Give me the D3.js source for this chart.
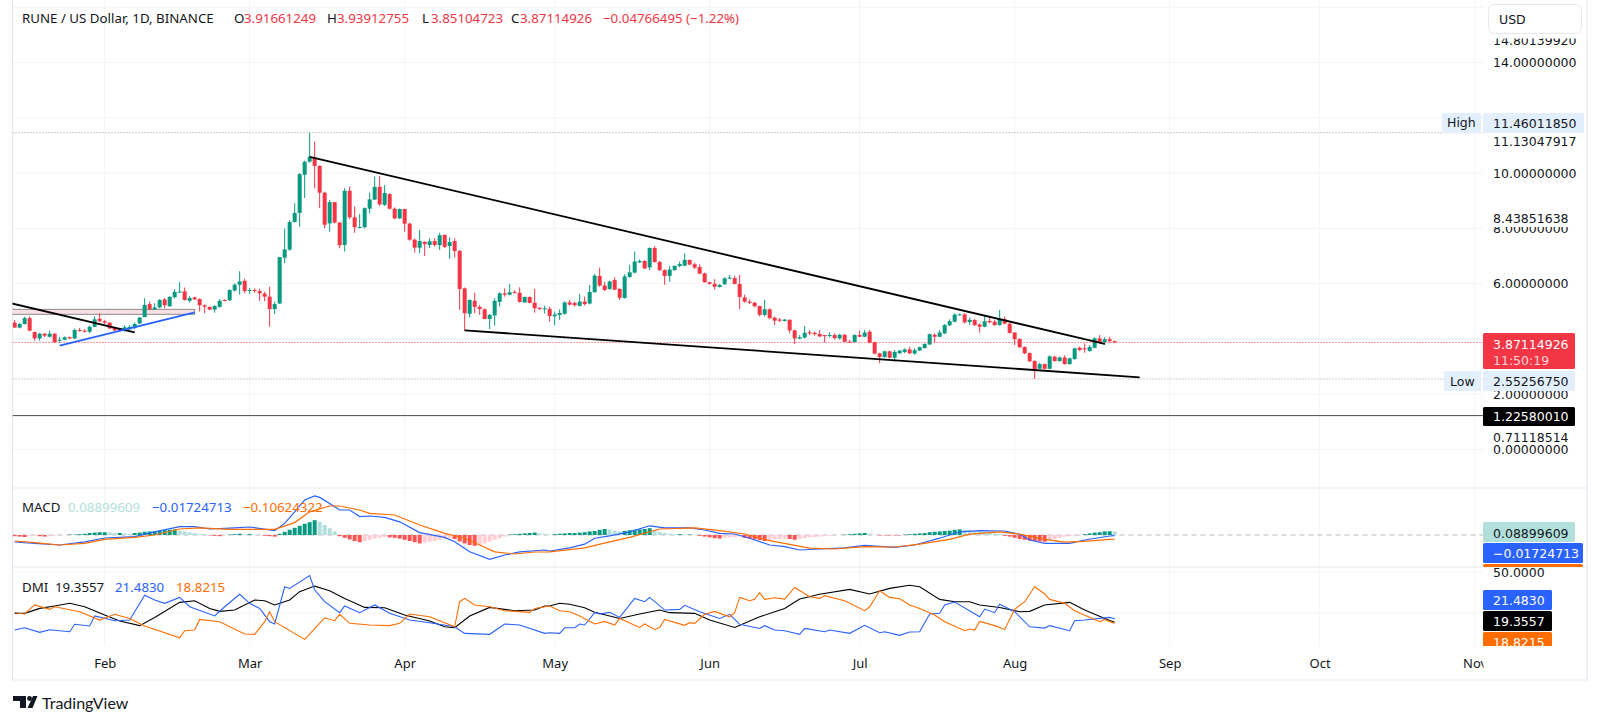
<!DOCTYPE html>
<html>
<head>
<meta charset="utf-8">
<script src="https://cdn.jsdelivr.net/npm/d3@7"></script>
<style>
  html, body { margin: 0; padding: 0; background: #fff; }
  svg { display: block; }
  text { font-family: "DejaVu Sans", sans-serif; }
  .legend text, .months text { font-family: "Noto Sans", sans-serif; }
</style>
</head>
<body>
<svg id="chart" width="1600" height="723"></svg>
<script>
// daily candles, first one is 14 Jan 2024
const opens = [4.59,4.41,4.54,4.75,4.25,4.02,4.19,4.08,4.19,3.94,
  3.97,4.06,4.02,4.32,4.30,4.26,4.44,4.73,4.64,4.59,
  4.41,4.38,4.30,4.35,4.40,4.56,4.79,5.26,5.06,5.14,
  5.43,5.18,5.51,5.69,5.72,5.38,5.50,5.44,5.22,5.16,
  5.06,5.16,5.41,5.40,5.75,5.96,6.10,5.75,5.77,5.73,
  5.64,5.53,5.08,5.28,6.94,7.23,8.23,8.56,9.94,10.41,
  10.57,10.26,9.29,8.18,8.95,8.21,7.40,9.36,8.40,8.03,
  8.04,8.71,9.04,9.50,8.85,9.24,8.71,8.36,8.70,8.17,
  7.59,7.30,7.51,7.40,7.54,7.39,7.76,7.36,7.54,7.18,
  5.83,4.91,5.38,5.16,5.07,4.72,4.85,5.34,5.65,5.60,
  5.69,5.67,5.32,5.52,5.31,5.12,5.09,5.09,4.82,4.87,
  4.91,5.32,5.30,5.20,5.35,5.28,5.69,6.28,5.93,5.81,
  6.13,5.81,5.48,6.24,6.40,6.77,6.82,6.59,7.29,6.78,
  6.49,6.28,6.49,6.64,6.65,6.86,6.70,6.60,6.37,6.05,
  5.99,5.88,5.98,6.18,6.20,5.99,5.50,5.35,5.31,5.19,
  4.87,5.07,4.77,4.70,4.65,4.69,4.31,4.01,4.05,4.24,
  4.22,4.18,4.14,4.12,4.14,4.02,4.15,3.90,3.89,4.14,
  4.08,4.26,3.88,3.48,3.35,3.55,3.32,3.48,3.53,3.62,
  3.47,3.58,3.67,3.80,4.15,4.08,4.20,4.49,4.62,4.87,
  4.89,4.61,4.69,4.52,4.44,4.65,4.62,4.50,4.71,4.55,
  4.23,4.00,3.71,3.49,3.20,2.92,3.09,2.92,3.36,3.20,
  3.33,3.09,3.27,3.68,3.66,3.56,3.68,4.02,3.88,3.99,
  3.91661249];
const highs = [4.69,4.58,4.80,4.81,4.27,4.22,4.21,4.30,4.21,4.08,
  4.09,4.09,4.38,4.40,4.35,4.48,4.82,4.93,4.69,4.61,
  4.44,4.40,4.50,4.50,4.59,4.80,5.47,5.35,5.29,5.44,
  5.48,5.55,5.80,6.05,5.86,5.55,5.53,5.47,5.25,5.17,
  5.22,5.43,5.43,5.80,6.01,6.45,6.18,5.84,5.83,5.82,
  5.71,5.89,5.35,6.97,7.99,8.30,8.91,10.00,10.45,11.4601185,
  11.14,10.28,9.33,9.03,8.95,8.23,9.45,9.51,8.79,8.52,
  8.76,9.29,9.87,9.89,9.57,9.27,8.76,8.72,8.71,8.21,
  7.63,7.94,7.53,7.64,7.64,7.84,7.78,7.68,7.64,7.22,
  5.86,5.43,5.67,5.23,5.11,4.90,5.47,5.69,5.83,5.99,
  5.77,5.87,5.53,5.53,5.81,5.15,5.20,5.17,4.99,5.07,
  5.36,5.41,5.35,5.62,5.53,5.95,6.35,6.58,6.07,6.11,
  6.23,5.83,6.34,6.68,7.16,6.88,6.85,7.31,7.36,6.82,
  6.52,6.64,6.66,6.80,7.10,6.86,6.76,6.70,6.40,6.07,
  6.16,5.99,6.23,6.31,6.28,6.31,5.60,5.43,5.34,5.20,
  5.41,5.11,4.81,4.76,4.72,4.71,4.33,4.14,4.47,4.32,
  4.26,4.32,4.14,4.24,4.20,4.18,4.18,3.96,4.17,4.30,
  4.32,4.32,3.90,3.50,3.58,3.58,3.60,3.60,3.66,3.72,
  3.66,3.72,3.84,4.20,4.20,4.32,4.54,4.71,4.93,4.92,
  4.93,4.78,4.71,4.56,4.84,4.81,4.69,5.05,4.81,4.59,
  4.25,4.02,3.73,3.51,3.23,3.14,3.11,3.40,3.38,3.36,
  3.41,3.32,3.68,3.72,3.84,3.78,4.06,4.14,4.06,4.08,
  3.93912755];
const lows = [4.40,4.38,4.52,4.28,3.94,3.94,4.06,4.05,3.86,3.86,
  3.95,3.99,3.99,4.26,4.23,4.20,4.42,4.61,4.54,4.35,
  4.29,4.28,4.26,4.33,4.35,4.54,4.79,5.04,5.05,5.11,
  5.11,5.17,5.47,5.67,5.39,5.31,5.41,4.99,4.93,5.05,
  4.95,5.13,5.36,5.37,5.72,5.60,5.65,5.63,5.67,5.37,
  5.36,4.44,4.90,5.27,6.74,7.19,8.21,8.06,9.10,10.38,
  9.45,8.73,8.00,7.88,8.18,7.28,7.16,8.33,7.84,8.00,
  8.00,8.54,9.03,8.81,8.81,8.69,8.33,8.34,7.88,7.55,
  7.12,7.10,7.00,7.29,7.34,7.22,7.29,6.90,6.95,5.05,
  4.30,4.78,4.93,4.87,4.71,4.36,4.48,5.17,5.53,5.58,
  5.65,5.31,5.31,5.29,4.95,5.06,4.92,4.62,4.50,4.69,
  4.88,5.21,5.17,5.17,5.21,5.25,5.67,5.89,5.73,5.77,
  5.77,5.41,5.46,6.21,6.37,6.74,6.53,6.49,6.76,6.46,
  5.96,6.07,6.47,6.59,6.63,6.67,6.53,6.34,6.04,5.97,
  5.79,5.86,5.95,6.16,5.98,5.08,5.31,5.26,5.14,4.81,
  4.81,4.71,4.50,4.61,4.63,4.20,3.82,3.99,4.02,4.14,
  4.12,4.06,3.87,4.06,3.98,3.98,3.87,3.87,3.87,4.06,
  4.06,3.84,3.44,3.12,3.31,3.30,3.18,3.46,3.49,3.45,
  3.43,3.56,3.65,3.78,3.87,4.06,4.18,4.47,4.60,4.85,
  4.56,4.50,4.47,4.23,4.42,4.56,4.48,4.48,4.53,4.20,
  3.78,3.67,3.45,3.17,2.5525675,2.90,2.90,2.90,3.18,3.18,
  3.07,3.07,3.25,3.56,3.50,3.54,3.66,3.84,3.78,3.87,
  3.85104723];
const closes = [4.41,4.54,4.75,4.30,4.02,4.19,4.12,4.19,3.88,3.97,
  4.06,4.02,4.32,4.30,4.26,4.44,4.71,4.64,4.59,4.38,
  4.31,4.30,4.42,4.44,4.54,4.77,5.23,5.07,5.14,5.41,
  5.22,5.52,5.70,5.71,5.41,5.48,5.43,5.22,5.17,5.06,
  5.19,5.38,5.38,5.77,5.96,6.08,5.73,5.77,5.75,5.65,
  5.53,5.08,5.26,6.96,7.24,8.23,8.56,9.96,10.41,10.59,
  10.26,9.29,8.13,8.95,8.21,7.39,9.36,8.40,8.04,8.05,
  8.73,9.05,9.50,8.87,9.28,8.71,8.36,8.70,8.17,7.59,
  7.30,7.54,7.43,7.53,7.40,7.75,7.33,7.51,7.18,5.81,
  4.93,5.41,5.16,5.08,4.72,4.87,5.38,5.65,5.60,5.69,
  5.66,5.34,5.52,5.30,5.11,5.08,5.11,4.83,4.88,4.94,
  5.32,5.24,5.22,5.35,5.26,5.70,6.29,5.93,5.77,6.08,
  5.78,5.49,6.26,6.41,6.80,6.82,6.55,7.29,6.78,6.49,
  6.28,6.51,6.64,6.71,6.86,6.69,6.58,6.36,6.05,5.99,
  5.89,5.95,6.19,6.22,5.99,5.52,5.35,5.31,5.18,4.87,
  5.07,4.75,4.66,4.66,4.70,4.31,4.02,4.06,4.22,4.20,
  4.17,4.09,4.12,4.14,4.03,4.15,3.90,3.88,4.14,4.08,
  4.23,3.87,3.47,3.35,3.55,3.32,3.53,3.58,3.62,3.48,
  3.59,3.70,3.82,4.17,4.08,4.23,4.50,4.64,4.88,4.89,
  4.60,4.69,4.50,4.44,4.64,4.60,4.50,4.73,4.55,4.22,
  3.99,3.70,3.48,3.19,2.91,3.09,2.92,3.37,3.20,3.33,
  3.09,3.30,3.66,3.60,3.64,3.71,4.02,3.89,3.99,3.92,
  3.87114926];

// macd histogram, one bar per candle
const histogram = [-.03,-.04,-.05,-.03,-.02,-.03,-.04,-.03,-.02,
  -.01,0,.01,.01,
  .02,.03,.05,.06,.07,
  .07,.06,.05,.05,.04,.03,
  .05,.06,.08,.09,.1,
  .11,.12,.13,.14,
  .11,.09,.07,.05,.03,
  .01,-.01,-.02,-.03,-.01,
  .01,.02,.03,.02,.02,.01,0,
  -.02,-.03,-.04,
  .03,.08,.13,.18,.23,.28,.32,.37,
  .33,.25,.17,.09,
  -.03,-.07,-.11,-.15,-.18,
  -.15,-.12,-.09,-.07,-.05,
  -.06,-.07,-.09,-.12,-.15,-.18,-.21,
  -.19,-.17,-.15,-.12,-.1,-.07,
  -.1,-.16,-.21,-.25,-.27,
  -.25,-.21,-.17,-.12,-.08,-.04,
  .01,.02,.03,.04,.05,.06,
  .04,.03,.01,
  .02,.03,.04,.05,.05,.06,.07,.09,.1,.13,.15,
  .14,.11,.09,
  .1,.12,.13,.14,.15,.17,
  .12,.08,.05,.03,
  .02,.02,.01,.01,0,
  -.02,-.04,-.06,-.08,-.09,
  -.07,-.06,-.05,-.04,
  -.07,-.09,-.11,-.13,-.15,
  -.12,-.11,-.1,-.09,
  -.1,-.12,
  -.1,-.08,-.06,-.05,-.04,-.03,-.02,-.01,0,
  .01,.02,.03,.04,.05,
  .03,.01,
  -.01,-.01,-.01,-.01,-.01,
  .01,.02,.03,.04,.05,
  .07,.08,.09,.1,.11,.13,.14,
  .13,.12,.1,.09,.07,.06,.04,.03,
  -.02,-.04,-.07,-.1,-.12,-.14,-.15,-.16,-.17,
  -.13,-.1,-.07,-.04,-.03,-.02,-.01,
  .02,.04,.06,.07,.09,
  .095,.089];

// indicator lines: candle number + value, read at the visible corners
const macdDays = [0,4,9,14,18,24,28,33,36,39,44,47,52,54,56,58,60,61,63,65,67,69,71,74,77,81,86,88,91,95,98,101,106,107,111,114,116,119,123,127,130,135,138,141,144,147,151,154,157,161,166,170,176,180,185,189,193,198,201,203,206,211,214,219,220];
const macdValues = [-.175,-.21,-.25,-.17,-.075,-.04,.08,.21,.21,.15,.18,.2,.11,.29,.58,.875,.975,.94,.79,.625,.625,.46,.475,.44,.33,.06,-.06,-.17,-.42,-.61,-.5,-.42,-.375,-.4,-.32,-.23,-.08,-.02,.08,.23,.18,.18,.125,.04,.025,-.08,-.25,-.29,-.375,-.35,-.32,-.26,-.31,-.25,-.08,.08,.11,.1,.02,-.125,-.21,-.21,-.125,-.025,-.01724713];
const signalDays = [0,4,9,14,18,24,28,33,37,43,47,52,56,59,63,65,69,71,76,81,86,90,93,96,100,104,107,114,119,123,129,136,141,146,151,159,164,170,176,181,187,191,197,201,206,210,214,219,220];
const signalValues = [-.15,-.19,-.25,-.21,-.11,-.06,0,.15,.18,.14,.14,.14,.31,.58,.725,.725,.625,.54,.5,.25,.04,-.08,-.25,-.42,-.475,-.425,-.42,-.32,-.17,-.06,.15,.18,.11,.025,-.14,-.33,-.35,-.29,-.3,-.23,-.11,.02,.08,.025,-.11,-.18,-.16,-.11,-.10624322];

const adxDays = [0,2,5,8,11,14,18,21,25,28,33,36,39,41,44,48,50,52,55,57,60,63,66,70,74,78,83,86,88,91,95,100,104,106,107,109,111,114,116,121,125,129,131,136,139,144,149,154,157,161,167,171,175,179,181,185,188,191,193,197,201,203,206,211,214,219,220];
const adxValues = [24.8,24.8,27.8,29.3,30.9,28.8,23.8,20.1,17.3,22.3,31.5,32.5,27.8,26,26.8,32.9,32.5,29.9,32.9,38,41.4,38.6,33.9,28.4,28.2,23.8,20.1,16.6,16,23.2,28.4,26.4,26.8,29.3,29.3,30.9,30.3,28.2,25.4,21.7,24.4,26.8,25.2,24.8,20.7,16.2,22.7,27.8,33.5,36.4,39.4,36.6,40,41.9,41,33.3,31.9,31.9,29.9,28.4,25.8,26,29.9,31.5,26.8,20.4,19.3557];
const plusDays = [0,2,5,7,11,12,15,16,20,23,26,28,30,33,35,40,42,45,47,49,51,52,54,55,59,60,62,65,66,69,72,75,79,83,88,90,95,98,101,106,107,109,110,112,113,114,116,117,119,121,124,126,127,130,133,134,137,141,143,145,149,150,152,154,157,158,162,163,167,170,173,174,177,179,181,183,185,186,188,193,194,196,197,200,203,206,207,211,212,214,219,220];
const plusValues = [14.6,16,13.2,14.8,13.6,18.1,17.1,23.2,20.3,20.7,35.8,32.9,30.9,34.5,28.8,23.2,28.8,36.4,30.9,27.8,19.7,18.3,41,40,47.8,39,31.9,25.2,29.3,25.2,29.9,24.8,20.7,19.1,16.6,12.6,12,18.3,17.7,12.6,13,12.6,16,16,18.3,17.7,25.2,24.4,25.4,22.3,33.9,31.9,34.5,26.8,27.2,29.7,25.8,21.7,24.2,18.1,15.6,17.3,14.6,14.2,12,15.6,13.6,14.6,12.6,17.5,13,13.6,11.4,13.4,13.6,24.4,24.8,29.9,31.7,22.7,27.4,25.2,30.3,25.8,16.6,15.8,17.3,14.2,20.3,20.7,22.3,21.483];
const minusDays = [0,2,4,7,8,13,17,20,23,26,33,34,36,37,41,46,48,50,51,52,58,62,64,65,67,71,75,77,79,83,88,89,90,92,95,98,103,104,107,109,111,113,116,118,120,121,125,126,128,129,130,134,135,136,138,140,143,144,145,147,148,149,150,152,154,156,159,161,162,166,170,171,173,175,177,179,181,184,186,190,191,192,193,196,198,200,202,204,206,207,210,212,217,218,219,220];
const minusValues = [25.2,24.4,29.9,27.2,28.8,25.8,20.7,24.2,21.7,17.1,9.9,14.2,14.6,21.1,19.7,12.2,12,19.7,25.8,19.7,8.9,22.1,20.3,24.2,18.7,17.7,17.3,18.7,24.4,22.7,16.6,31.9,33.9,29.9,28.8,26.4,25.4,27.8,29.3,26.4,25.8,23.2,18.3,19.9,17.7,21.7,16.2,18.3,15,16.2,21.1,17.5,19.1,18.7,24.2,26,22.7,25.2,34.5,32.5,33.3,37.4,33.3,34.3,33.5,40.6,34.9,33.9,35.6,32.5,26.4,28.8,38.6,34.5,33.7,29.9,27.8,23.8,19.7,14.2,15.2,14.6,19.9,17.3,15,27.2,31.9,41,36.6,33.3,30.9,26.4,19.7,21.1,19.7,18.8215];

// drawn trend lines, as [candle number, price] ends
const fallingTop = [[59, 10.59], [218, 3.82]];
const fallingBottom = [[90, 4.31], [225, 2.61]];
const oldResistance = [[-1, 5.30], [24, 4.24]];
const oldSupport = [[9, 3.76], [36, 4.96]];
const oldRange = { fromDay: -1, toDay: 36, top: 5.07, bottom: 4.89 };

const priceTicks = [14.8013992, 14, 11.13047917, 10, 8, 6, 2, 0];
const gridPrices = [16, 14, 12, 10, 8, 6, 4, 2, 0];
const dmiTicks = [50, 25];
const highPrice = 11.4601185, lowPrice = 2.5525675, lastPrice = 3.87114926, markPrice = 1.2258001;

const up = '#089981', down = '#f23645', paleUp = '#b2dfdb', paleDown = '#ffcdd2';
const blue = '#2962ff', orange = '#ff6d00', ink = '#131722', gridCol = '#f3f4f8', lineCol = '#e6e7f0';

const paneLeft = 12.5, paneRight = 1483;
const firstDay = Date.UTC(2024, 0, 14);
const dayDate = i => new Date(firstDay + i * 86400000);

const svg = d3.select('#chart');

// 5px per day, same scale for all three panes
const x = d3.scaleUtc()
  .domain([new Date(Date.UTC(2024, 1, 1)), new Date(Date.UTC(2024, 10, 1))])
  .range([104.67, 1474.67]);
const xDay = i => x(dayDate(i));

const yPrice = d3.scaleLinear().domain([0, 14]).range([449.5, 62.5]);
const yMacd = d3.scaleLinear().domain([-0.8, 1.175]).range([567, 488]);
const yDmi = d3.scaleLinear().domain([0, 50]).range([654, 572]);

const months = d3.utcMonth.range(new Date(Date.UTC(2024, 1, 1)), new Date(Date.UTC(2024, 10, 2)));

const defs = svg.append('defs');
const addClip = (id, y0, y1) => defs.append('clipPath').attr('id', id).append('rect')
  .attr('x', paneLeft).attr('y', y0).attr('width', paneRight - paneLeft).attr('height', y1 - y0);
addClip('clipMain', 0, 488);
addClip('clipMacd', 488, 567);
addClip('clipDmi', 567, 646);

// grid
const grid = svg.append('g').attr('stroke', gridCol).attr('stroke-width', 1);
grid.selectAll('.v').data(months).join('line').attr('class', 'v')
  .attr('x1', d => x(d)).attr('x2', d => x(d)).attr('y1', 0).attr('y2', 646);
grid.selectAll('.h').data(gridPrices).join('line').attr('class', 'h')
  .attr('x1', paneLeft).attr('x2', paneRight)
  .attr('y1', d => yPrice(d)).attr('y2', d => yPrice(d));
grid.selectAll('.d').data(dmiTicks).join('line').attr('class', 'd')
  .attr('x1', paneLeft).attr('x2', paneRight)
  .attr('y1', d => yDmi(d)).attr('y2', d => yDmi(d));

// frame
const frame = svg.append('g').attr('stroke', lineCol).attr('stroke-width', 1.2).attr('fill', 'none');
frame.append('path').attr('d', 'M12.5,0V680H1587V0');
frame.append('path').attr('d', 'M12.5,488H1587M12.5,567H1587');

// price pane
const main = svg.append('g').attr('clip-path', 'url(#clipMain)');

const hLine = (v, color, dash, w) => main.append('line')
  .attr('x1', paneLeft).attr('x2', paneRight).attr('y1', yPrice(v)).attr('y2', yPrice(v))
  .attr('stroke', color).attr('stroke-width', w || 1).attr('stroke-dasharray', dash);
hLine(highPrice, '#9a9ca3', '1 2');
hLine(lowPrice, '#9a9ca3', '1 2');
hLine(markPrice, '#4a4a4a', null);

main.append('rect')
  .attr('x', xDay(oldRange.fromDay)).attr('width', xDay(oldRange.toDay) - xDay(oldRange.fromDay))
  .attr('y', yPrice(oldRange.top)).attr('height', yPrice(oldRange.bottom) - yPrice(oldRange.top))
  .attr('fill', '#f8dfe2').attr('stroke', '#8f8a8c').attr('stroke-width', 1);

const candles = main.append('g').selectAll('g').data(closes).join('g');
candles.append('line')
  .attr('x1', (d, i) => xDay(i)).attr('x2', (d, i) => xDay(i))
  .attr('y1', (d, i) => yPrice(highs[i])).attr('y2', (d, i) => yPrice(lows[i]))
  .attr('stroke', (d, i) => closes[i] >= opens[i] ? up : down).attr('stroke-width', 1);
candles.append('rect')
  .attr('x', (d, i) => xDay(i) - 2).attr('width', 4)
  .attr('y', (d, i) => yPrice(Math.max(opens[i], closes[i])))
  .attr('height', (d, i) => Math.max(1, Math.abs(yPrice(opens[i]) - yPrice(closes[i]))))
  .attr('fill', (d, i) => closes[i] >= opens[i] ? up : down);

hLine(lastPrice, down, '1 2');

const trend = (ends, color) => main.append('path')
  .attr('d', d3.line().x(d => xDay(d[0])).y(d => yPrice(d[1]))(ends))
  .attr('fill', 'none').attr('stroke', color).attr('stroke-width', 1.8);
trend(fallingTop, '#000');
trend(fallingBottom, '#000');
trend(oldResistance, '#000');
trend(oldSupport, blue);

// macd pane
const macdPane = svg.append('g').attr('clip-path', 'url(#clipMacd)');
macdPane.append('line').attr('x1', paneLeft).attr('x2', paneRight)
  .attr('y1', yMacd(0)).attr('y2', yMacd(0))
  .attr('stroke', '#b8bbc2').attr('stroke-dasharray', '5 4');
macdPane.selectAll('rect').data(histogram).join('rect')
  .attr('x', (d, i) => xDay(i) - 2).attr('width', 4)
  .attr('y', d => Math.min(yMacd(d), yMacd(0)))
  .attr('height', d => Math.abs(yMacd(d) - yMacd(0)))
  .attr('fill', (d, i) => {
    const prev = i ? histogram[i - 1] : d;
    if (d >= 0) return d >= prev ? up : paleUp;
    return d <= prev ? '#ff5252' : paleDown;
  });

const zip = (days, values) => days.map((d, i) => [d, values[i]]);
const drawLine = (pane, yScale, days, values, color, w) => pane.append('path')
  .attr('d', d3.line().x(d => xDay(d[0])).y(d => yScale(d[1]))(zip(days, values)))
  .attr('fill', 'none').attr('stroke', color).attr('stroke-width', w);
drawLine(macdPane, yMacd, macdDays, macdValues, blue, 1.2);
drawLine(macdPane, yMacd, signalDays, signalValues, orange, 1.2);

// dmi pane
const dmiPane = svg.append('g').attr('clip-path', 'url(#clipDmi)');
drawLine(dmiPane, yDmi, adxDays, adxValues, '#000', 1.1);
drawLine(dmiPane, yDmi, plusDays, plusValues, blue, 1.1);
drawLine(dmiPane, yDmi, minusDays, minusValues, orange, 1.1);

// month labels
svg.append('g').attr('class', 'months')
  .attr('transform', 'translate(0,646)')
  .call(d3.axisBottom(x).tickValues(months).tickFormat(d3.utcFormat('%b')).tickSize(0).tickPadding(13))
  .call(g => g.select('.domain').remove())
  .call(g => g.selectAll('text').attr('font-size', 13).attr('fill', ink).attr('font-family', null));
svg.append('rect').attr('x', 1483.5).attr('y', 650).attr('width', 60).attr('height', 25).attr('fill', '#fff');

// price axis labels
svg.append('g').attr('transform', 'translate(1483,0)')
  .call(d3.axisRight(yPrice).tickValues(priceTicks).tickFormat(d3.format('.8f')).tickSize(0).tickPadding(10))
  .call(g => g.select('.domain').remove())
  .call(g => g.selectAll('text').attr('font-size', 12.5).attr('fill', ink).attr('font-family', null));
svg.append('g').attr('transform', 'translate(1483,0)')
  .call(d3.axisRight(yDmi).tickValues([50]).tickFormat(d3.format('.4f')).tickSize(0).tickPadding(10))
  .call(g => g.select('.domain').remove())
  .call(g => g.selectAll('text').attr('font-size', 12.5).attr('fill', ink).attr('font-family', null));

const flag = (x0, y0, w, h, fill, label, color, tx, ty, size) => {
  svg.append('rect').attr('x', x0).attr('y', y0).attr('width', w).attr('height', h)
    .attr('rx', 1.5).attr('fill', fill);
  if (label) svg.append('text').attr('x', tx).attr('y', ty).attr('dy', '0.36em')
    .attr('font-size', size || 12.5).attr('fill', color).text(label);
};

// white tops hide what the labels cover
flag(1483.5, 209, 100, 18, '#fff', '8.43851638', ink, 1493, 218);
flag(1483.5, 428, 100, 17, '#fff', '0.71118514', ink, 1493, 437);
svg.append('rect').attr('x', 1483.5).attr('y', 558).attr('width', 103).attr('height', 9).attr('fill', '#fff');

flag(1442, 113, 39, 20, '#e3effd', 'High', ink, 1447, 122.5, 12.5);
flag(1483, 113, 101, 20, '#e3effd', '11.46011850', ink, 1493, 123);
flag(1483, 333, 92, 36, down, '3.87114926', '#fff', 1493, 344);
svg.append('text').attr('x', 1493).attr('y', 360).attr('dy', '0.36em')
  .attr('font-size', 12.5).attr('fill', '#ffd5d9').text('11:50:19');
flag(1444, 371, 37, 20, '#e3effd', 'Low', ink, 1450, 381, 12.5);
flag(1483, 371, 92, 20, '#e3effd', '2.55256750', ink, 1493, 381);
flag(1483, 407, 92, 19, '#000', '1.22580010', '#fff', 1493, 416);
flag(1483, 522, 92, 20, paleUp, '0.08899609', ink, 1493, 533);
flag(1483, 543, 100, 20, blue, '\u22120.01724713', '#fff', 1493, 553);
flag(1483, 564, 100, 3, orange);
flag(1483, 590, 69, 20, blue, '21.4830', '#fff', 1493, 600);
flag(1483, 611, 69, 20, '#000', '19.3557', '#fff', 1493, 621);
defs.append('clipPath').attr('id', 'clipFlag').append('rect').attr('x', 1483).attr('y', 630).attr('width', 70).attr('height', 16);
const lastFlag = svg.append('g').attr('clip-path', 'url(#clipFlag)');
lastFlag.append('rect').attr('x', 1483).attr('y', 632).attr('width', 69).attr('height', 20).attr('rx', 1.5).attr('fill', orange);
lastFlag.append('text').attr('x', 1493).attr('y', 642).attr('dy', '0.36em').attr('font-size', 12.5).attr('fill', '#fff').text('18.8215');

// USD button
svg.append('rect').attr('x', 1483.5).attr('y', 0).attr('width', 103).attr('height', 38.5).attr('fill', '#fff');
svg.append('rect').attr('x', 1488.5).attr('y', 4.5).attr('width', 93).attr('height', 29)
  .attr('rx', 6).attr('fill', '#fff').attr('stroke', '#e6e7f0');
svg.append('text').attr('x', 1499).attr('y', 19).attr('dy', '0.36em').attr('font-size', 12.5).attr('fill', ink).text('USD');

// legends
const legend = svg.append('g').attr('class', 'legend').attr('font-size', 13.3);
const legendText = (tx, ty, label, color) => legend.append('text').attr('x', tx).attr('y', ty)
  .attr('dy', '0.36em').attr('fill', color).text(label);
legendText(22, 18, 'RUNE / US Dollar, 1D, BINANCE', ink);
legendText(234, 18, 'O', ink);
legendText(244, 18, '3.91661249', down);
legendText(327, 18, 'H', ink);
legendText(337, 18, '3.93912755', down);
legendText(422, 18, 'L', ink);
legendText(431, 18, '3.85104723', down);
legendText(511, 18, 'C', ink);
legendText(520, 18, '3.87114926', down);
legendText(603, 18, '\u22120.04766495 (\u22121.22%)', down);

legendText(22, 507, 'MACD', ink);
legendText(68, 507, '0.08899609', paleUp);
legendText(152, 507, '\u22120.01724713', blue);
legendText(243, 507, '\u22120.10624322', orange);
legendText(22, 587, 'DMI', ink);
legendText(55, 587, '19.3557', ink);
legendText(115, 587, '21.4830', blue);
legendText(176, 587, '18.8215', orange);

// TradingView mark
svg.append('path').attr('fill', ink)
  .attr('d', 'M13,696H26V708H20V701H13Z M33,696H37.5L32.5,708H27.5Z');
svg.append('circle').attr('cx', 29.5).attr('cy', 698.5).attr('r', 2.4).attr('fill', ink);
svg.append('text').attr('x', 42).attr('y', 703).attr('dy', '0.36em')
  .style('font-family', 'Lato, sans-serif')
  .attr('font-size', 16).attr('fill', ink).text('TradingView');
</script>
</body>
</html>
